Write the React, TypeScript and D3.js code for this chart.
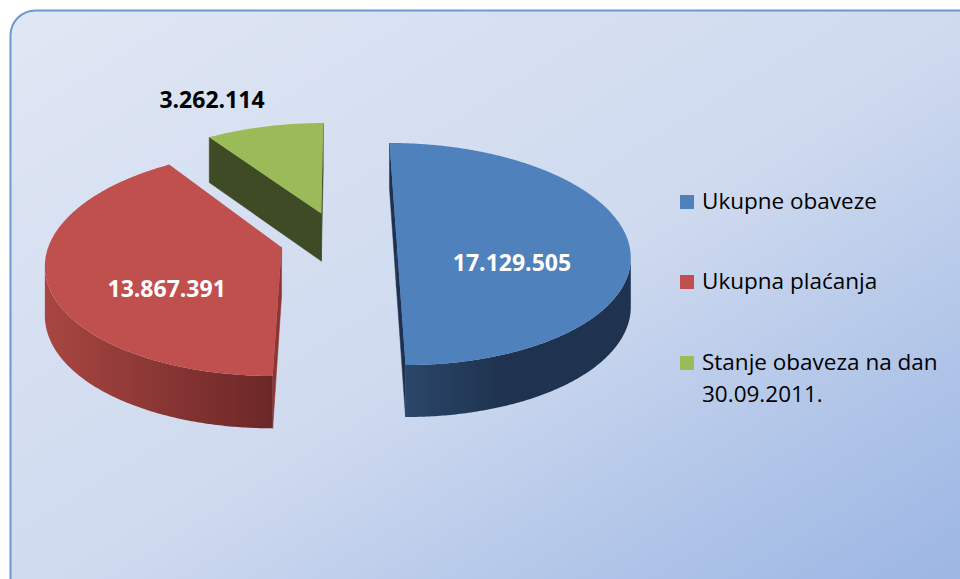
import React from "react";
import * as d3 from "d3";

// ---- data ----
const categories = ["Ukupne obaveze", "Ukupna plaćanja", "Stanje obaveza na dan 30.09.2011."];
const legendLines = [["Ukupne obaveze"], ["Ukupna plaćanja"], ["Stanje obaveza na dan", "30.09.2011."]];
const values = [17129505, 13867391, 3262114];

// ---- styles ----
const topColors = ["#4f81bd", "#c0504d", "#9bbb59"];
const wallStops = [
  ["#2c4a6e", "#1f3350"],
  ["#a84641", "#6b2727"],
  ["#46552a", "#3e4c24"],
];
const faceColors = ["#1e3150", "#8c3532", "#3e4b24"];
const labelColors = ["#ffffff", "#ffffff", "#000000"];
const labelInside = [true, true, false];

const W = 960;
const H = 579;
// projection (simple perspective tilt)
const CX = 338;
const CY = 239;
const RX = 231;
const RY = 109;
const PERSP = 0.135;
const DEPTH = 48.4;
const EXPLODE = 0.253;

function proj(u: number, v: number, h: number): [number, number] {
  const s = 1 / (1 - PERSP * v);
  return [CX + RX * u * s, CY + RY * v * s + h * DEPTH * Math.sqrt(s)];
}

const fmt = (v: number) => d3.format(",")(v).replace(/,/g, ".");

function polyPath(pts: [number, number][]) {
  return "M" + pts.map((p) => p[0].toFixed(2) + "," + p[1].toFixed(2)).join("L") + "Z";
}

function shoelace(pts: [number, number][]) {
  let s = 0;
  for (let i = 0; i < pts.length; i++) {
    const a = pts[i];
    const b = pts[(i + 1) % pts.length];
    s += a[0] * b[1] - b[0] * a[1];
  }
  return s;
}

export default function App() {
  const arcs = d3.pie<number>().sort(null).value((d) => d)(values);

  const slices = arcs.map((a, i) => {
    const a0 = a.startAngle;
    const a1 = a.endAngle;
    const mid = (a0 + a1) / 2;
    const ex = EXPLODE * Math.sin(mid);
    const ey = -EXPLODE * Math.cos(mid);
    const pt = (t: number, r: number, h: number) =>
      proj(ex + r * Math.sin(t), ey - r * Math.cos(t), h);

    const n = Math.max(4, Math.ceil((a1 - a0) / 0.01));
    const angles = d3.range(n + 1).map((k) => a0 + ((a1 - a0) * k) / n);

    // top face
    const topPts: [number, number][] = [pt(0, 0, 0), ...angles.map((t) => pt(t, 1, 0))];
    const top = polyPath(topPts);

    // outer walls: visible runs where screen x decreases with angle
    const walls: string[] = [];
    let run: number[] = [];
    const flush = () => {
      if (run.length >= 2) {
        const upper = run.map((t) => pt(t, 1, 0));
        const lower = run.slice().reverse().map((t) => pt(t, 1, 1));
        walls.push(polyPath([...upper, ...lower]));
      }
      run = [];
    };
    for (let k = 0; k < n; k++) {
      const p = pt(angles[k], 1, 0);
      const q = pt(angles[k + 1], 1, 0);
      if (q[0] < p[0]) {
        if (run.length === 0) run.push(angles[k]);
        run.push(angles[k + 1]);
      } else {
        flush();
      }
    }
    flush();

    // radial faces
    const faces: string[] = [];
    const startQ: [number, number][] = [pt(a0, 0, 0), pt(a0, 1, 0), pt(a0, 1, 1), pt(a0, 0, 1)];
    if (shoelace(startQ) < 0) faces.push(polyPath(startQ));
    const endQ: [number, number][] = [pt(a1, 0, 0), pt(a1, 1, 0), pt(a1, 1, 1), pt(a1, 0, 1)];
    if (shoelace(endQ) > 0) faces.push(polyPath(endQ));

    // wall gradient extent
    const xs = angles.map((t) => pt(t, 1, 0)[0]);
    const gx0 = d3.min(xs) as number;
    const gx1 = d3.max(xs) as number;

    let label: [number, number];
    if (labelInside[i]) {
      label = pt(mid, 0.5, 0.5);
    } else {
      const o = pt(mid, 1, 0);
      label = [o[0], o[1] - 27];
    }

    return { i, ey, top, walls, faces, gx0, gx1, label };
  });

  const order = slices.slice().sort((a, b) => a.ey - b.ey);

  const legendX = 680;
  const legendY = [195, 275, 356];

  return (
    <svg
      width={W}
      height={H}
      style={{ position: "absolute", left: 0, top: 0, display: "block" }}
      xmlns="http://www.w3.org/2000/svg"
    >
      <defs>
        <linearGradient id="bg" x1="0" y1="0" x2="1" y2="1">
          <stop offset="0" stopColor="#e0e7f4" />
          <stop offset="0.5" stopColor="#cfdaef" />
          <stop offset="0.8" stopColor="#abc1e7" />
          <stop offset="1" stopColor="#97b3e2" />
        </linearGradient>
        {slices.map((s) => (
          <linearGradient
            key={s.i}
            id={"wall" + s.i}
            gradientUnits="userSpaceOnUse"
            x1={s.gx0}
            y1={0}
            x2={s.gx1}
            y2={0}
          >
            <stop offset="0" stopColor={wallStops[s.i][0]} />
            <stop offset={s.i === 0 ? "0.45" : "1"} stopColor={wallStops[s.i][1]} />
            <stop offset="1" stopColor={wallStops[s.i][1]} />
          </linearGradient>
        ))}
      </defs>
      <rect x={0} y={0} width={W} height={H} fill="#ffffff" />
      <rect
        x={10.5}
        y={10.5}
        width={985}
        height={610}
        rx={25}
        ry={25}
        fill="url(#bg)"
        stroke="#6d97cd"
        strokeWidth={2}
      />
      {order.map((s) => (
        <g key={s.i}>
          {s.faces.map((d, k) => (
            <path key={"f" + k} d={d} fill={faceColors[s.i]} stroke={faceColors[s.i]} strokeWidth={0.5} />
          ))}
          {s.walls.map((d, k) => (
            <path key={"w" + k} d={d} fill={`url(#wall${s.i})`} />
          ))}
          <path d={s.top} fill={topColors[s.i]} />
        </g>
      ))}
      {slices.map((s) => (
        <text
          key={"l" + s.i}
          x={s.label[0]}
          y={s.label[1]}
          dy="0.35em"
          textAnchor={labelInside[s.i] ? "middle" : "end"}
          fill={labelColors[s.i]}
          fontFamily="'Open Sans', sans-serif"
          fontWeight={700}
          fontSize={23}
        >
          {fmt(values[s.i])}
        </text>
      ))}
      {categories.map((c, i) => (
        <g key={"lg" + i}>
          <rect x={legendX} y={legendY[i]} width={14} height={14} fill={topColors[i]} />
          <text
            x={legendX + 22}
            y={legendY[i] + 14}
            fontFamily="'Open Sans', sans-serif"
            fontSize={22.5}
            fill="#000000"
          >
            {legendLines[i].map((line, k) => (
              <tspan key={k} x={legendX + 22} dy={k === 0 ? 0 : 32}>
                {line}
              </tspan>
            ))}
          </text>
        </g>
      ))}
    </svg>
  );
}
